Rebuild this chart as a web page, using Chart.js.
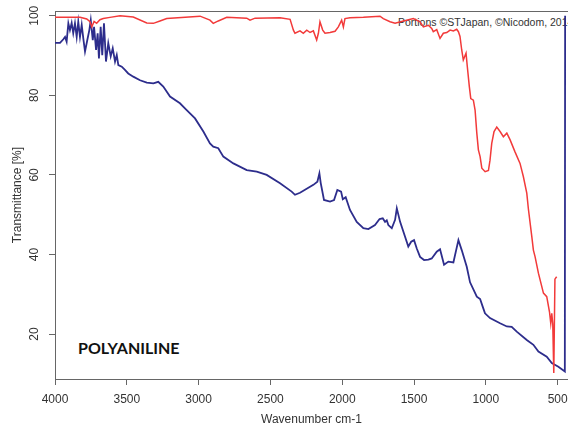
<!DOCTYPE html>
<html>
<head>
<meta charset="utf-8">
<script src="https://cdn.jsdelivr.net/npm/chart.js@4"></script>
<style>
  html, body { margin: 0; padding: 0; background: #fff; }
  #wrap { position: relative; width: 568px; height: 430px; overflow: hidden; }
  #chart { position: absolute; left: 0; top: 0; }
  .note { position: absolute; white-space: nowrap; font-family: "Liberation Sans", Arial, sans-serif; }
  #credit { left: 398px; top: 16px; font-size: 10.5px; color: #333; }
  #label { left: 78px; top: 338px; font-family: Lato, sans-serif; font-weight: bold; font-size: 16px; color: #111; }
</style>
</head>
<body>
<div id="wrap">
  <div class="note" id="credit">Portions ©STJapan, ©Nicodom, 2014</div>
  <div class="note" id="label">POLYANILINE</div>
  <canvas id="chart" width="568" height="430"></canvas>
</div>
<script>
// wavenumber (cm-1) and transmittance (%)
const blueWave = [4000, 3965, 3942, 3930, 3919, 3907, 3896, 3884, 3873, 3861, 3849, 3838, 3826, 3814, 3803, 3791,
  3775, 3761, 3751, 3737, 3728, 3714, 3703, 3694, 3682, 3671, 3659, 3645, 3629, 3612, 3598, 3582, 3570, 3559,
  3535, 3513, 3490, 3455, 3408, 3361, 3315, 3281, 3246, 3199, 3130, 3083, 3025, 2967, 2921, 2898, 2863, 2828,
  2758, 2665, 2595, 2526, 2433, 2352, 2329, 2294, 2201, 2173, 2159, 2150, 2136, 2127, 2085, 2057, 2034, 2008,
  1996, 1976, 1946, 1899, 1853, 1818, 1772, 1740, 1718, 1702, 1690, 1679, 1655, 1632, 1620, 1597, 1563, 1540,
  1520, 1500, 1481, 1458, 1430, 1400, 1377, 1342, 1319, 1291, 1261, 1226, 1191, 1168, 1133, 1110, 1063, 1040,
  1022, 1006, 971, 901, 854, 820, 785, 715, 669, 634, 576, 541, 495, 450, 448];
const blueT = [93.2, 93.2, 94.1, 94.7, 93.5, 98.1, 96.4, 98.2, 95.6, 98.1, 94.7, 98.5, 94.7, 97.7, 94.3, 91.0,
  93.9, 96.4, 98.9, 93.9, 97.2, 91.4, 95.6, 89.3, 97.2, 90.1, 98.1, 88.5, 93.1, 89.8, 91.8, 88.5, 90.1, 87.6,
  87.2, 86.4, 85.5, 84.7, 83.8, 83.2, 83.0, 83.4, 82.2, 79.7, 78.0, 76.3, 74.2, 70.9, 67.9, 67.1, 66.7, 64.6,
  62.9, 61.2, 60.8, 60.0, 57.9, 55.8, 55.0, 55.5, 57.5, 58.3, 60.4, 58.0, 55.4, 53.7, 53.3, 53.7, 56.2, 55.8,
  53.9, 54.4, 51.2, 48.2, 46.6, 46.4, 47.4, 48.9, 49.1, 48.2, 48.6, 47.4, 46.6, 48.7, 51.6, 48.2, 44.5, 42.0,
  43.2, 43.6, 41.5, 39.4, 38.6, 38.7, 39.0, 40.7, 41.3, 37.4, 38.2, 38.0, 43.6, 41.1, 36.9, 33.0, 29.4, 28.8,
  26.9, 25.2, 24.0, 22.7, 21.9, 21.8, 20.6, 18.5, 17.3, 15.6, 14.3, 12.7, 11.8, 10.6, 100];

const redWave = [4000, 3826, 3779, 3756, 3744, 3728, 3710, 3687, 3664, 3617, 3547, 3455, 3361, 3315, 3269, 3222,
  2990, 2921, 2898, 2863, 2804, 2665, 2642, 2607, 2433, 2363, 2340, 2329, 2294, 2271, 2247, 2224, 2201, 2178,
  2166, 2155, 2136, 2120, 2085, 2050, 2027, 2004, 1992, 1981, 1946, 1853, 1737, 1714, 1667, 1632, 1574, 1505,
  1458, 1435, 1400, 1377, 1366, 1342, 1319, 1296, 1272, 1249, 1226, 1203, 1191, 1180, 1168, 1157, 1138, 1129,
  1115, 1105, 1087, 1075, 1063, 1052, 1040, 1028, 1005, 982, 971, 959, 943, 924, 901, 878, 854, 831, 797, 762,
  739, 715, 704, 680, 669, 657, 634, 599, 576, 557, 548, 541, 534, 527, 519, 507];
const redT = [99.6, 99.6, 99.2, 98.5, 97.2, 98.6, 98.1, 99.0, 99.3, 99.6, 100.0, 99.7, 98.2, 98.1, 98.7, 99.3,
  99.9, 98.9, 98.1, 98.7, 99.6, 99.4, 98.9, 99.4, 99.5, 99.1, 96.4, 95.6, 96.2, 95.6, 96.4, 95.8, 96.2, 93.9,
  95.6, 98.5, 96.4, 95.6, 95.8, 96.1, 97.2, 98.9, 97.2, 99.3, 99.5, 99.6, 99.9, 99.3, 98.5, 98.1, 98.7, 99.3,
  98.5, 97.2, 97.6, 96.8, 96.0, 96.5, 94.3, 95.6, 95.8, 96.4, 96.2, 96.6, 96.0, 94.8, 91.4, 88.9, 90.6, 87.2,
  82.2, 79.2, 78.8, 76.3, 70.5, 66.3, 64.6, 61.7, 60.8, 61.1, 63.7, 67.9, 70.9, 72.0, 70.9, 69.6, 70.5, 68.8, 65.8, 62.9,
  59.6, 55.4, 51.5, 44.5, 41.1, 39.4, 35.3, 30.3, 29.4, 25.6, 22.7, 25.2, 22.5, 10.2, 33.8, 34.4];

const xTicks = [4000, 3500, 3000, 2500, 2000, 1500, 1000, 500];
const yTicks = [20, 40, 60, 80, 100];

const axisFont = { family: '"Liberation Sans", Arial, sans-serif', size: 12 };
const axisColor = '#666';
const textColor = '#333';

function points(xs, ys) {
  return xs.map((x, i) => ({ x, y: ys[i] }));
}

new Chart(document.getElementById('chart'), {
  type: 'line',
  data: {
    datasets: [
      {
        data: points(redWave, redT),
        borderColor: '#f23a3a',
        borderWidth: 1.5,
        pointRadius: 0,
        tension: 0,
      },
      {
        data: points(blueWave, blueT),
        borderColor: '#2d2d8c',
        borderWidth: 1.8,
        pointRadius: 0,
        tension: 0,
      },
    ],
  },
  options: {
    responsive: false,
    animation: false,
    layout: { padding: { top: 11, right: 0, bottom: 0, left: 0 } },
    plugins: { legend: { display: false }, tooltip: { enabled: false } },
    scales: {
      x: {
        type: 'linear',
        reverse: true,
        min: 428,
        max: 4000,
        afterBuildTicks: (s) => { s.ticks = xTicks.map((v) => ({ value: v })); },
        afterFit: (s) => { s.height = 51; s.paddingLeft = 0; s.paddingRight = 0; },
        ticks: { autoSkip: false, maxRotation: 0, color: textColor, font: axisFont, padding: 7, callback: (v) => String(v) },
        grid: { drawOnChartArea: false, tickLength: 6, color: axisColor },
        border: { color: axisColor },
        title: { display: true, text: 'Wavenumber cm-1', color: textColor, font: axisFont, padding: { top: 0, bottom: 3 } },
      },
      xTop: {
        type: 'linear',
        position: 'top',
        display: true,
        ticks: { display: false },
        grid: { display: false },
        border: { display: true, color: axisColor },
        afterFit: (s) => { s.height = 0; },
      },
      y: {
        min: 8.7,
        max: 101.2,
        afterBuildTicks: (s) => { s.ticks = yTicks.map((v) => ({ value: v })); },
        afterFit: (s) => { s.width = 55; s.paddingTop = 0; s.paddingBottom = 0; },
        ticks: { minRotation: 90, maxRotation: 90, crossAlign: 'center', padding: 4, color: textColor, font: axisFont, callback: (v) => String(v) },
        grid: { drawOnChartArea: false, tickLength: 6, color: axisColor },
        border: { color: axisColor },
        title: { display: true, text: 'Transmittance [%]', color: textColor, font: axisFont, padding: { top: 10, bottom: 0 } },
      },
    },
  },
});
</script>
</body>
</html>
